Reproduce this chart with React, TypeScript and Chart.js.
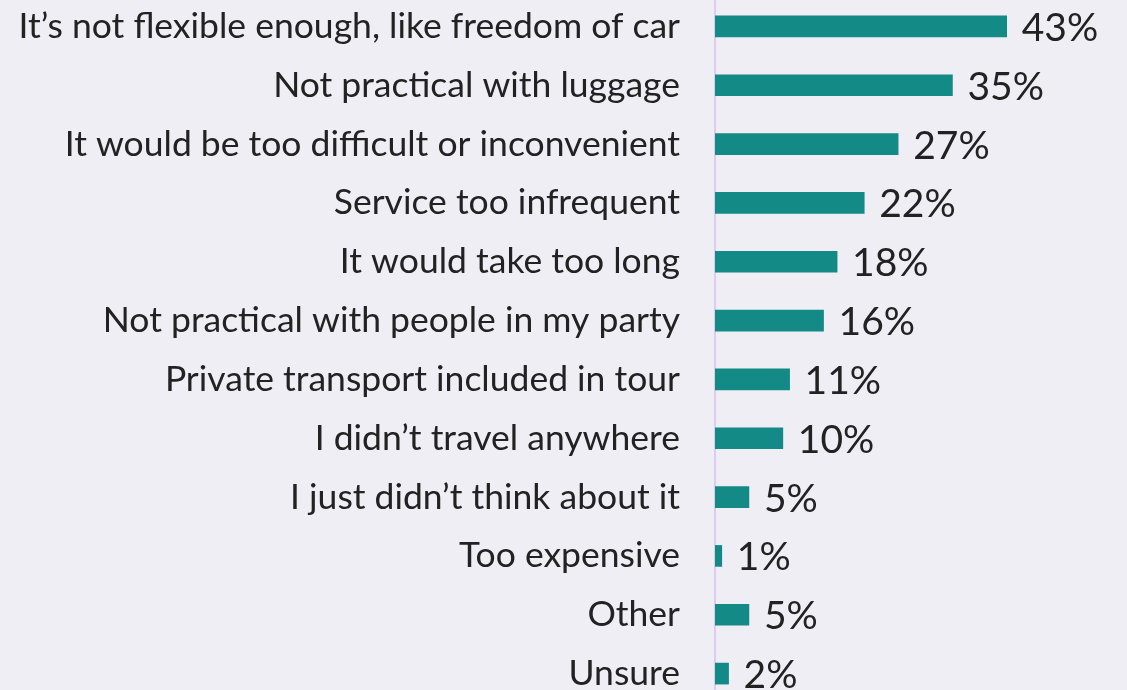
import React, { useEffect, useRef } from "react";
import { Chart, registerables } from "chart.js";

Chart.register(...registerables);

const categories: string[] = [
  "It’s not flexible enough, like freedom of car",
  "Not practical with luggage",
  "It would be too difficult or inconvenient",
  "Service too infrequent",
  "It would take too long",
  "Not practical with people in my party",
  "Private transport included in tour",
  "I didn’t travel anywhere",
  "I just didn’t think about it",
  "Too expensive",
  "Other",
  "Unsure",
];

const values: number[] = [43, 35, 27, 22, 18, 16, 11, 10, 5, 1, 5, 2];

const BG = "#efeef5";
const BAR = "#138a85";
const TEXT = "#222222";
const FONT = "Lato, 'Noto Sans', sans-serif";

const valueLabels = {
  id: "valueLabels",
  afterDatasetsDraw(chart: any) {
    const ctx = chart.ctx;
    const meta = chart.getDatasetMeta(0);
    ctx.save();
    ctx.font = `39px ${FONT}`;
    ctx.fillStyle = TEXT;
    ctx.textAlign = "left";
    ctx.textBaseline = "middle";
    meta.data.forEach((bar: any, i: number) => {
      ctx.fillText(`${values[i]}%`, bar.x + 15, bar.y + 2);
    });
    ctx.restore();
  },
};

export default function App() {
  const ref = useRef<HTMLCanvasElement | null>(null);

  useEffect(() => {
    if (!ref.current) return;
    const chart = new Chart(ref.current, {
      type: "bar",
      data: {
        labels: categories,
        datasets: [
          {
            data: values,
            backgroundColor: BAR,
            borderWidth: 0,
            barThickness: 21,
          },
        ],
      },
      options: {
        indexAxis: "y",
        animation: false,
        responsive: false,
        maintainAspectRatio: false,
        layout: { padding: { left: 0, right: 5, top: 0, bottom: 0 } },
        plugins: {
          legend: { display: false },
          tooltip: { enabled: false },
        },
        scales: {
          x: {
            display: false,
            min: 0,
            max: 60,
          },
          y: {
            grid: { display: false, drawTicks: false },
            border: { display: true, color: "#dccdee", width: 2 },
            ticks: {
              color: TEXT,
              font: { family: FONT, size: 35.5 },
              padding: 35,
              crossAlign: "near",
            },
            afterFit(scale: any) {
              scale.width = 715;
              scale.paddingTop = 0;
              scale.paddingBottom = 0;
            },
          },
        },
      },
      plugins: [valueLabels],
    });
    return () => chart.destroy();
  }, []);

  return (
    <div
      style={{
        position: "fixed",
        left: 0,
        top: 0,
        width: "1127px",
        height: "690px",
        background: BG,
        overflow: "hidden",
      }}
    >
      <canvas
        ref={ref}
        width={1127}
        height={706}
        style={{ position: "absolute", left: 0, top: "-3px", width: "1127px", height: "706px" }}
      />
    </div>
  );
}
